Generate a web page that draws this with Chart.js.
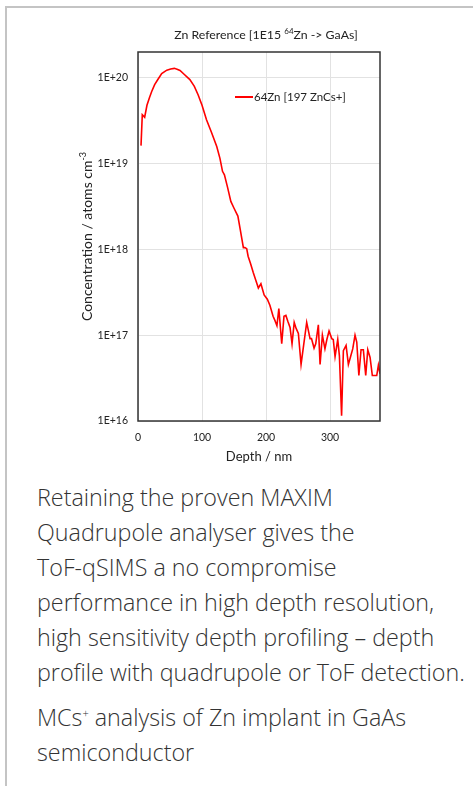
<!DOCTYPE html>
<html>
<head>
<meta charset="utf-8">
<script src="https://cdn.jsdelivr.net/npm/chart.js@4.4.1/dist/chart.umd.min.js"></script>
<style>
  html, body { margin: 0; padding: 0; background: #fff; }
  body { width: 473px; height: 786px; position: relative; overflow: hidden; }
  .frame {
    position: absolute; left: 5px; top: 6px; right: 0; bottom: 0;
    border-left: 2px solid #c4c4c4; border-top: 2px solid #c4c4c4;
  }
  #wrap { position: absolute; left: 0; top: 0; width: 473px; height: 470px; }
  .caption {
    position: absolute; left: 37px; top: 480px;
    font-family: "Open Sans", sans-serif; font-weight: 300;
    font-size: 23.3px; line-height: 35px; color: #333; white-space: nowrap;
  }
  .caption p { margin: 0 0 10px 0; }
</style>
</head>
<body>
<div class="frame"></div>
<div id="wrap"><canvas id="sims" width="473" height="470"></canvas></div>
<div class="caption">
  <p>Retaining the proven MAXIM<br>Quadrupole analyser gives the<br>ToF-qSIMS a no compromise<br>performance in high depth resolution,<br>high sensitivity depth profiling – depth<br>profile with quadrupole or ToF detection.</p>
  <p>MCs<sup style="font-size:11px;vertical-align:9px;line-height:0">+</sup> analysis of Zn implant in GaAs<br>semiconductor</p>
</div>
<script>
// Data: depth (nm) and 64Zn concentration (atoms/cm3)
const depthNm = [
  4.7, 6.7, 10.4, 14, 18, 21.4, 26, 31, 37, 45,
  51, 56.8, 61, 65.6, 72, 81, 88, 94, 100, 107,
  115, 123, 128, 132, 135, 140, 145, 150, 156, 160,
  164.6, 167, 169.8, 172, 176, 180, 184, 188, 192, 197,
  202, 206, 211, 214, 217, 220, 224.5, 228, 231, 234,
  237.5, 240.6, 244, 247, 250.5, 254.7, 259, 263.5, 268.75, 271,
  275, 277.6, 281.7, 284.4, 288, 292, 295, 298.4, 302.6, 305,
  307.8, 312, 314.6, 318, 320.8, 325, 328.6, 332, 335.4, 339,
  341.7, 345, 348.4, 352, 355.7, 358.9, 362.5, 366, 369, 372.9,
  375.5, 378
];
const zn64 = [
  1.62e19, 3.72e19, 3.47e19, 4.79e19, 5.89e19, 6.92e19, 8.32e19, 9.55e19, 1.12e20, 1.23e20,
  1.27e20, 1.29e20, 1.26e20, 1.22e20, 1.10e20, 9.55e19, 7.94e19, 6.31e19, 4.79e19, 3.24e19,
  2.29e19, 1.58e19, 1.15e19, 8.13e18, 7.41e18, 5.25e18, 3.63e18, 3.02e18, 2.45e18, 1.66e18,
  1.05e18, 1.05e18, 1.02e18, 8.32e17, 6.76e17, 5.37e17, 4.37e17, 3.55e17, 3.98e17, 2.95e17,
  2.63e17, 2.24e17, 1.66e17, 1.48e17, 1.29e17, 2.04e17, 7.94e16, 1.66e17, 1.70e17, 1.45e17,
  1.23e17, 7.94e16, 1.41e17, 1.20e17, 1.05e17, 4.57e16, 7.94e16, 1.41e17, 9.12e16, 9.12e16,
  7.08e16, 7.94e16, 1.32e17, 4.57e16, 1.00e17, 6.92e16, 8.91e16, 1.12e17, 9.12e16, 8.91e16,
  5.62e16, 8.91e16, 5.75e16, 1.15e16, 6.61e16, 7.59e16, 4.57e16, 5.62e16, 6.92e16, 1.00e17,
  8.32e16, 3.39e16, 6.76e16, 6.76e16, 3.39e16, 6.76e16, 5.50e16, 3.39e16, 3.39e16, 3.39e16,
  4.47e16, 3.55e16
];
const xTicks = [0, 100, 200, 300];
const yTicks = [1e16, 1e17, 1e18, 1e19, 1e20];
const yTickLabels = ["1E+16", "1E+17", "1E+18", "1E+19", "1E+20"];

const seriesLabel = "64Zn [197 ZnCs+]";
const FONT = "Lato, 'Liberation Sans', sans-serif";

const points = depthNm.map(function (d, i) { return { x: d, y: zn64[i] }; });

// Plugin: frame, title with superscript, rotated y title, inner legend
const decorations = {
  id: "decorations",
  afterDraw: function (chart) {
    const ctx = chart.ctx;
    const a   = chart.chartArea;
    ctx.save();

    //plot frame
    ctx.strokeStyle = "#333";
    ctx.lineWidth = 1.5;
    ctx.strokeRect(a.left, a.top, a.right - a.left, a.bottom - a.top);

    //chart title with superscript 64
    ctx.fillStyle = "#222";
    ctx.textBaseline = "alphabetic";
    let big = "12.3px " + FONT, small = "8px " + FONT;
    const p1 = "Zn Reference [1E15 ", sup = "64", p2 = "Zn -> GaAs]";
    ctx.font = big;   const w1 = ctx.measureText(p1).width, w3 = ctx.measureText(p2).width;
    ctx.font = small; const w2 = ctx.measureText(sup).width;
    let x = 266 - (w1 + w2 + w3) / 2;
    const base = 39;
    ctx.font = big;   ctx.fillText(p1, x, base); x += w1;
    ctx.font = small; ctx.fillText(sup, x, base - 5); x += w2;
    ctx.font = big;   ctx.fillText(p2, x, base);

    //rotated y-axis title with superscript -3
    big = "14px " + FONT; small = "9px " + FONT;
    ctx.translate(92, (a.top + a.bottom) / 2);
    ctx.rotate(-Math.PI / 2);
    const t1 = "Concentration / atoms cm", t2 = "-3";
    ctx.font = big;   const v1 = ctx.measureText(t1).width;
    ctx.font = small; const v2 = ctx.measureText(t2).width;
    let tx = -(v1 + v2) / 2;
    ctx.font = big;   ctx.fillText(t1, tx, 0); tx += v1;
    ctx.font = small; ctx.fillText(t2, tx, -6);
    ctx.restore();

    //legend inside the plot
    ctx.save();
    const ly = a.top + 45, lx = a.left + 97;
    ctx.strokeStyle = "#ff0000";
    ctx.lineWidth = 2;
    ctx.beginPath(); ctx.moveTo(lx, ly); ctx.lineTo(lx + 18, ly); ctx.stroke();
    ctx.fillStyle = "#222";
    ctx.font = "11.5px " + FONT;
    ctx.textBaseline = "middle";
    ctx.fillText(chart.data.datasets[0].label, lx + 19, ly);
    ctx.restore();
  }
};

new Chart(document.getElementById("sims"), {
  type: "line",
  data: {
    datasets: [{
      label:       seriesLabel,
      data:        points,
      borderColor: "#ff0000",
      borderWidth: 1.6,
      pointRadius: 0,
      tension:     0,
      fill:        false,
    }],
  },
  options: {
    responsive: false,
    animation:  false,
    layout: { padding: { top: 52, right: 93, bottom: 0, left: 74 } },
    plugins: {
      legend:  { display: false },
      title:   { display: false },
      tooltip: { enabled: false },
    },
    scales: {
      x: {
        type: "linear",
        min: 0,
        max: 378,
        afterBuildTicks: function (s) { s.ticks = xTicks.map(function (v) { return { value: v }; }); },
        afterFit: function (s) { s.height = 49; },
        grid:   { color: "#e2e2e2", lineWidth: 1, drawTicks: false },
        border: { display: false },
        ticks:  { color: "#222", font: { family: FONT, size: 10.5 }, padding: 10, maxRotation: 0 },
        title:  { display: true, text: "Depth / nm", color: "#222", font: { family: FONT, size: 13 }, padding: { top: 0, bottom: 5 } },
      },
      y: {
        type: "logarithmic",
        min: 1e16,
        max: 2e20,
        afterBuildTicks: function (s) { s.ticks = yTicks.map(function (v) { return { value: v }; }); },
        afterFit: function (s) { s.width = 64; },
        grid:   { color: "#e2e2e2", lineWidth: 1, drawTicks: false },
        border: { display: false },
        ticks: {
          color: "#222",
          font: { family: FONT, size: 10.5 },
          padding: 10,
          callback: function (v) {
            const i = yTicks.indexOf(v);
            return i >= 0 ? yTickLabels[i] : "";
          },
        },
      },
    },
  },
  plugins: [decorations],
});
</script>
</body>
</html>
